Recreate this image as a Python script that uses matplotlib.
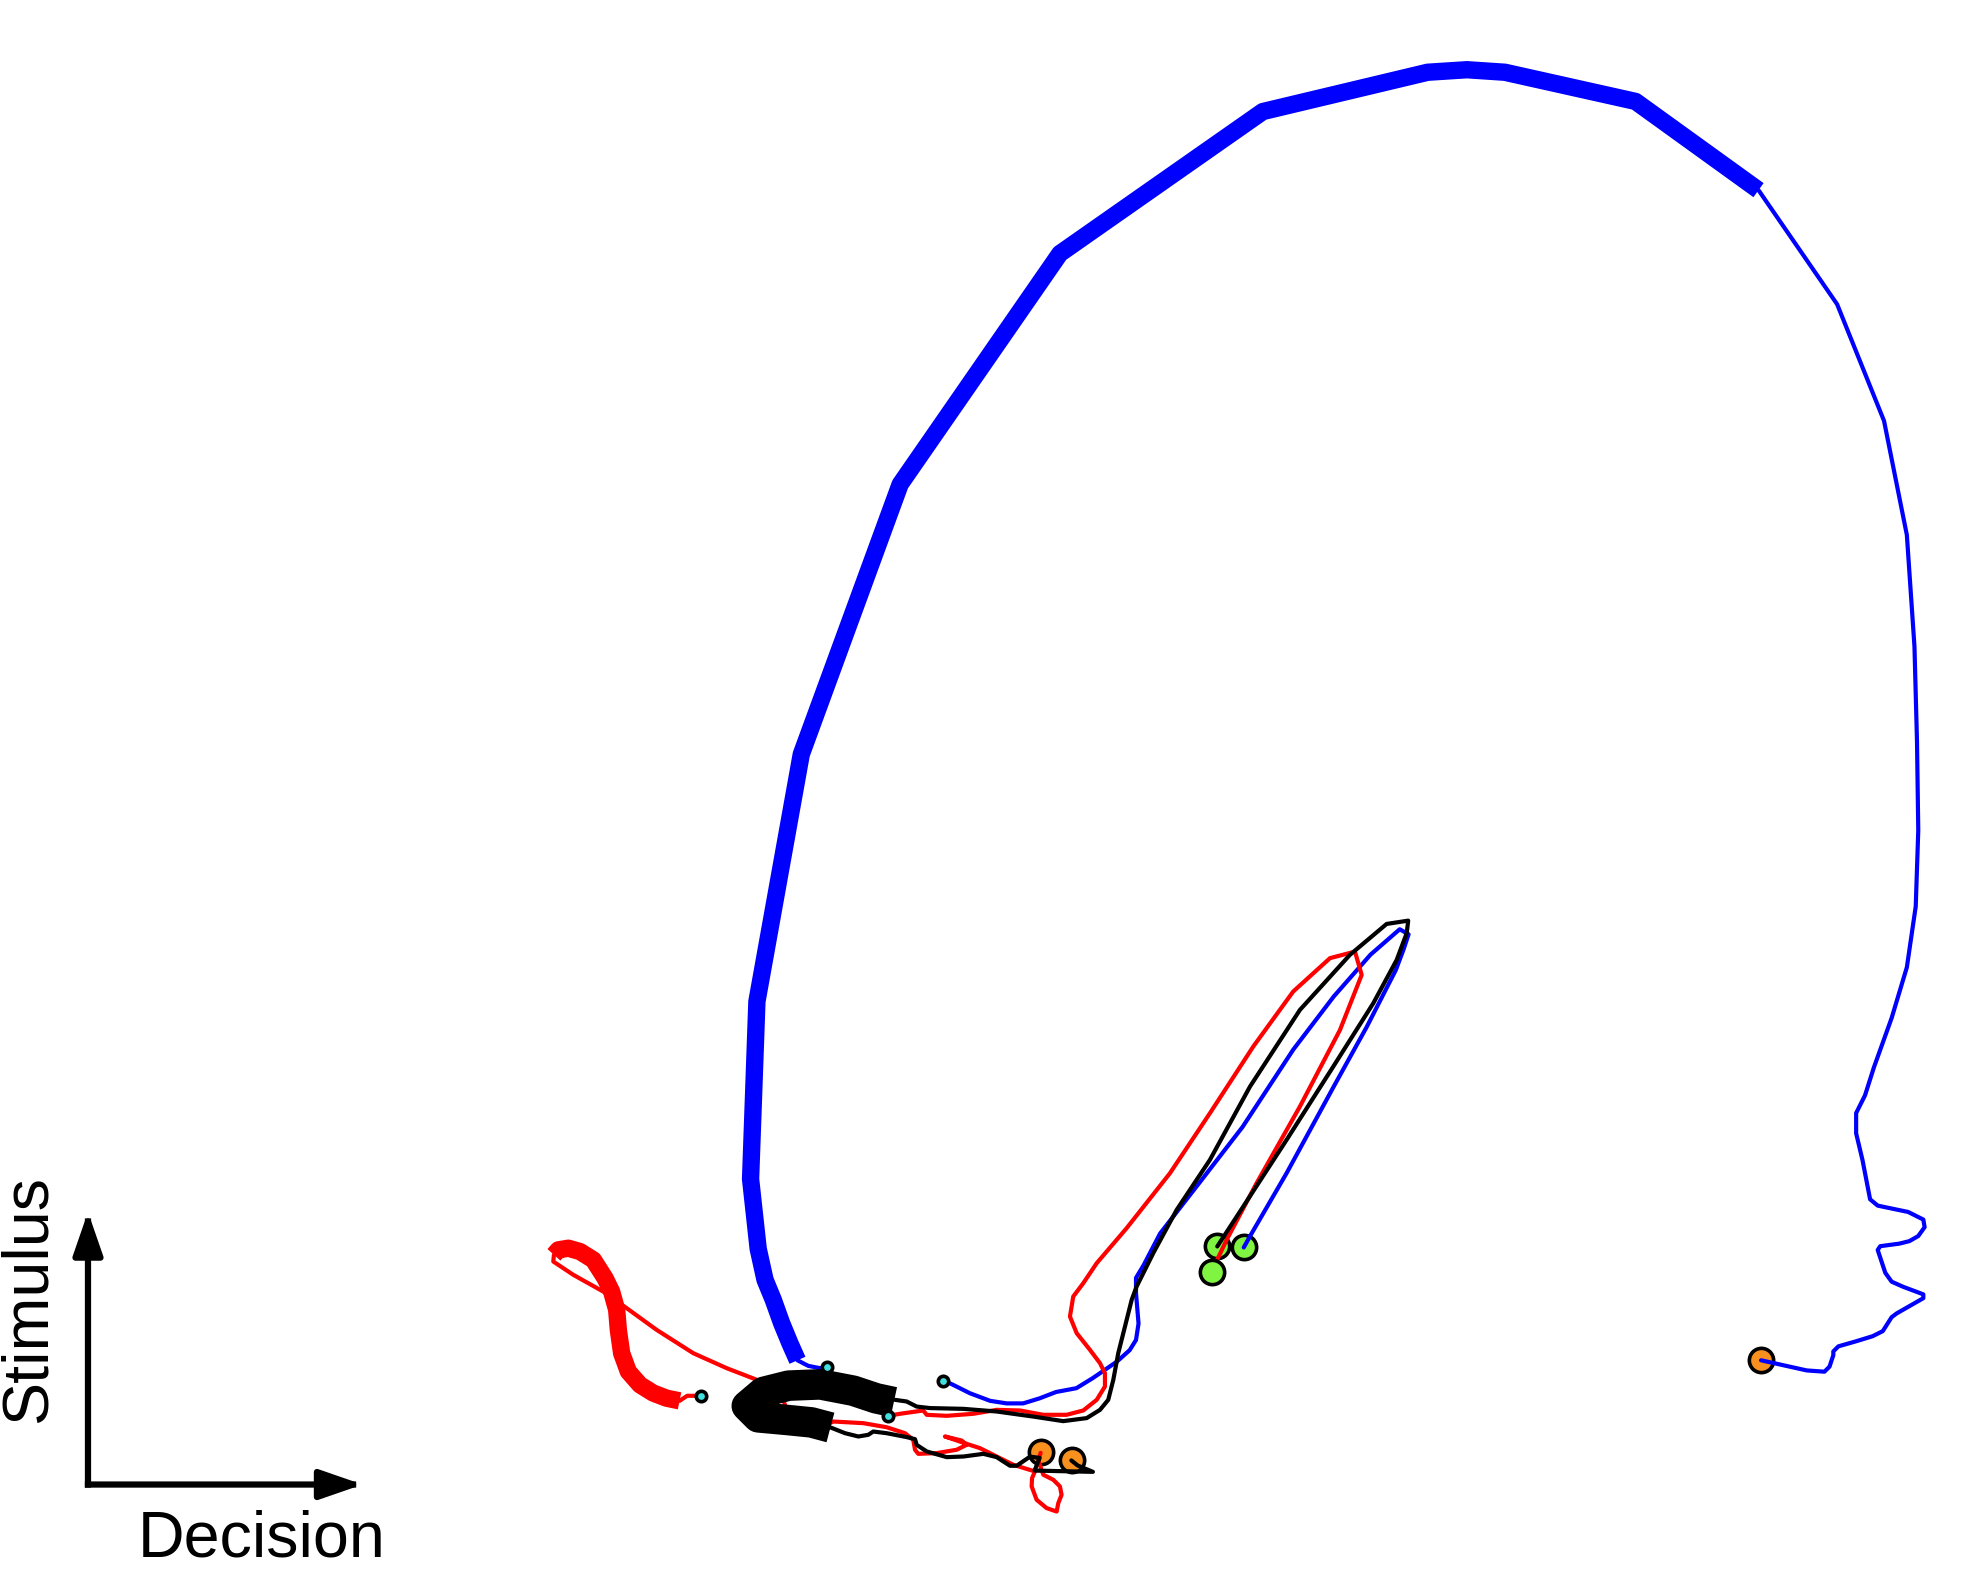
import matplotlib
matplotlib.use("Agg")
import matplotlib.pyplot as plt
from matplotlib.patches import FancyArrowPatch

# ---- data (decision axis x, stimulus axis y; y measured downward) ----
# Blue trajectory 1
blue1_pre_x = [652, 646.7, 637.5, 629]
blue1_pre_y = [1078.4, 1079.2, 1077.4, 1073]
blue1_thick_x = [629, 623, 616.5, 609.9, 603.4, 598, 592, 597, 632, 710, 836, 996, 1126, 1157, 1187, 1290, 1387]
blue1_thick_y = [1073, 1059.5, 1043.7, 1025.3, 1009.5, 985, 930, 790, 595, 382, 200, 88, 57, 55, 57, 80, 150]
blue1_post_x = [1387, 1449, 1486, 1504, 1510, 1512, 1513, 1511, 1504, 1492, 1478, 1471, 1464, 1464, 1469, 1475,
                1481, 1505, 1517, 1518, 1513, 1506, 1498, 1483, 1481, 1487, 1492, 1501, 1517, 1517, 1496, 1492,
                1485, 1477, 1464, 1450, 1446, 1446, 1443, 1439, 1425, 1389]
blue1_post_y = [150, 240, 332, 422, 510, 585, 655, 715, 763, 803, 842, 864, 878, 894, 915, 946,
                951, 956, 962, 968, 975, 979, 981, 983, 986, 1004, 1011, 1015, 1021, 1024, 1036, 1039,
                1050, 1054, 1058, 1062, 1066, 1069, 1078, 1082, 1081, 1073]

# Blue trajectory 2
blue2_x = [744, 751, 765, 781, 794, 807, 820, 833, 849, 862, 881, 891, 896, 898, 896, 896, 902, 915, 946, 980,
           1020, 1052, 1081, 1104, 1111, 1107, 1101, 1078, 1052, 1015, 986, 981]
blue2_y = [1089, 1092, 1099, 1105, 1107, 1107, 1103, 1098, 1095, 1087, 1074, 1065, 1057, 1044, 1020, 1008, 998,
           973, 933, 889, 828, 786, 753, 733, 737, 749, 765, 810, 857, 925, 975, 984]

# Red trajectory 1
red1_pre_x = [553, 542, 536]
red1_pre_y = [1101, 1101, 1105]
red1_thick_x = [536, 525.8, 515.3, 504.8, 495.6, 490.3, 487.7, 486.4, 482.4, 477.2, 468, 457.4, 448.3, 440.4, 436.9]
red1_thick_y = [1105, 1102.9, 1098.9, 1092.4, 1081.9, 1067.4, 1049, 1033.2, 1018.8, 1008.2, 993.8, 987.2, 984.6, 985.9, 989.8]
red1_post_x = [436.9, 436.4, 452.2, 475.8, 494.3, 517.9, 546.8, 573.1, 607.3, 618, 625, 633, 645, 657.3, 680.9,
               699.3, 713.8, 720.3, 721.7, 724.3, 738.8, 754.5, 762.4, 758.5, 745.3, 762.4, 772.9, 786.1, 799.2,
               816.3, 814, 813.7, 817.6, 825.5, 833.4, 834.7, 837.3, 836, 830.8, 822.9, 818.9, 820.8]
red1_post_y = [989.8, 995.1, 1005.6, 1018.8, 1031.9, 1049, 1067.4, 1079.2, 1092.4, 1105, 1124, 1130, 1127, 1121.3,
               1122.6, 1125.8, 1130.5, 1135.7, 1143.6, 1146.8, 1146.2, 1143.6, 1139.7, 1136.3, 1133.1, 1138.9,
               1142.3, 1148.9, 1155.4, 1160.7, 1166, 1172.5, 1183, 1189.6, 1192.3, 1185.7, 1179.1, 1172.5,
               1167.3, 1163.3, 1152, 1146]

# Red trajectory 2
red2_x = [700.6, 709.8, 728.2, 730.9, 746.7, 767.7, 786.1, 804.5, 822.9, 841.3, 854.4, 865, 871.5, 871.5, 867.6,
          859.7, 849.2, 843.9, 846.5, 854.4, 865, 888.6, 922.8, 954.3, 988.5, 1020, 1049, 1068.7, 1074, 1056.9,
          1025.3, 991.1, 967.5, 957]
red2_y = [1116.8, 1115.2, 1112.6, 1116, 1116.8, 1115.2, 1112.1, 1112.6, 1116, 1116, 1112.6, 1104.2, 1093.7, 1083.2,
          1075.3, 1064.8, 1051.6, 1038.5, 1022.7, 1012.2, 996.4, 968.8, 925.4, 878.1, 825.5, 782.1, 755.8, 750.6,
          769, 812.4, 872.8, 933.3, 978, 1000]

# Black trajectory 1
black1_thick_x = [705, 691, 673, 647, 622, 602, 589, 598, 620, 640, 655]
black1_thick_y = [1106, 1103, 1097, 1092, 1093, 1098, 1109, 1118, 1120, 1122, 1126]
black1_post_x = [654.6, 666.5, 677, 684.8, 688.8, 699.3, 715.1, 721.7, 723, 730.9, 746.7, 759.8, 775.6, 786.1,
                 796.6, 801.9, 812.4, 820, 816, 862, 850, 845]
black1_post_y = [1125.8, 1130.5, 1133.1, 1131.8, 1129.2, 1130.5, 1133.6, 1135.2, 1139.7, 1144.9, 1149.4, 1148.9,
                 1146.8, 1149.4, 1156.2, 1156.2, 1149, 1150, 1160, 1161, 1156, 1152]

# Black trajectory 2
black2_x = [705.9, 715.1, 723, 733.5, 759.8, 786.1, 815, 838.6, 857.1, 867.6, 874.1, 878.1, 882, 887.3, 892.6,
            896.5, 909.6, 928.1, 954.3, 985.9, 1025.3, 1064.7, 1093.7, 1110.7, 1109.5, 1101.6, 1083.2, 1051.6,
            1014.8, 980.6, 960.1]
black2_y = [1104.2, 1105.5, 1109.5, 1110.7, 1111.3, 1113.4, 1117.4, 1121, 1118.6, 1112.1, 1104.2, 1088.4, 1067.4,
            1046.4, 1025.3, 1014.8, 988.5, 954.3, 914.9, 857.1, 796.6, 753.2, 728.8, 726.2, 736.1, 757.2, 791.3,
            841.3, 899.1, 951.7, 983.2]

# start / end markers
start_x = [652, 744, 553, 700.6]
start_y = [1078.4, 1089, 1101, 1116.8]
orange_x = [1389, 820.8, 845.2]
orange_y = [1073, 1145, 1152]
green_x = [981, 960, 955.7]
green_y = [984, 983, 1003]

axis_labels = ["Decision", "Stimulus"]

# ---- figure ----
fig = plt.figure(figsize=(19.88, 15.72), dpi=100)
ax = fig.add_axes([0, 0, 1, 1])
ax.set_xlim(0, 1568)
ax.set_ylim(1240, 0)
ax.axis("off")

thin = 3.0
blue, red, black = "#0000ff", "#ff0000", "#000000"
orange, green, cyan = "#f7901e", "#7ff542", "#40e0e0"

# end markers (below lines)
mk = dict(ms=17.5, mec="k", mew=2.6, ls="none")
ax.plot(orange_x, orange_y, "o", mfc=orange, zorder=2, **mk)
ax.plot(green_x[:2], green_y[:2], "o", mfc=green, zorder=2, **mk)

kw_thin = dict(lw=thin, solid_joinstyle="round", solid_capstyle="round", zorder=3)
kw_thick = dict(solid_joinstyle="round", solid_capstyle="butt", zorder=3)

# blue
ax.plot(blue1_pre_x, blue1_pre_y, color=blue, **kw_thin)
ax.plot(blue1_thick_x, blue1_thick_y, color=blue, lw=12.5, **kw_thick)
ax.plot(blue1_post_x, blue1_post_y, color=blue, **kw_thin)
ax.plot(blue2_x, blue2_y, color=blue, **kw_thin)
# red
ax.plot(red1_pre_x, red1_pre_y, color=red, **kw_thin)
ax.plot(red1_thick_x, red1_thick_y, color=red, lw=12.5, **kw_thick)
ax.plot(red1_post_x, red1_post_y, color=red, **kw_thin)
ax.plot(red2_x, red2_y, color=red, **kw_thin)
# black
ax.plot(black1_thick_x, black1_thick_y, color=black, lw=22, **kw_thick)
ax.plot(black1_post_x, black1_post_y, color=black, **kw_thin)
ax.plot(black2_x, black2_y, color=black, **kw_thin)

ax.plot(green_x[2:], green_y[2:], "o", mfc=green, zorder=4, **mk)
ax.plot(start_x, start_y, "o", ms=7.5, mfc=cyan, mec="k", mew=2.6, zorder=5, ls="none")

# axis arrows
ox, oy = 69.4, 1171
for tip in [(286, oy), (ox, 956)]:
    arr = FancyArrowPatch((ox, oy), tip, arrowstyle="-|>,head_length=1.3,head_width=0.45",
                          mutation_scale=20, lw=4.5, color="k", joinstyle="round",
                          capstyle="projecting", shrinkA=0, shrinkB=0, zorder=3)
    ax.add_patch(arr)

ax.text(206.6, 1238, axis_labels[0], fontsize=46.5, family="Liberation Sans",
        ha="center", va="bottom")
ax.text(-1, 1025, axis_labels[1], fontsize=46.5, family="Liberation Sans",
        ha="left", va="center", rotation=90)

fig.savefig("out.png", dpi=100)
